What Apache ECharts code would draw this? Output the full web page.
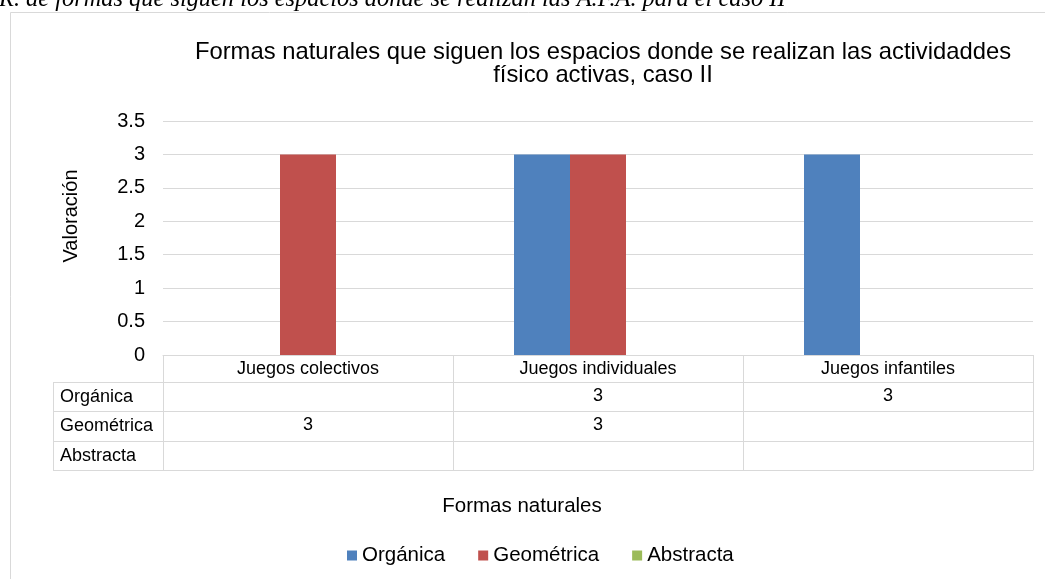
<!DOCTYPE html>
<html><head><meta charset="utf-8">
<script src="https://cdn.jsdelivr.net/npm/echarts@6/dist/echarts.min.js"></script>
<style>html,body{margin:0;padding:0;background:#fff}#c{width:1045px;height:579px}</style>
</head><body><div id="c"></div>
<script>
// ---- data ----
const categories = ['Juegos colectivos', 'Juegos individuales', 'Juegos infantiles'];
const seriesNames = ['Orgánica', 'Geométrica', 'Abstracta'];
const organica = [null, 3, 3];
const geometrica = [3, 3, null];
const abstracta = [null, null, null];
const yTicks = [0, 0.5, 1, 1.5, 2, 2.5, 3, 3.5];
const chartTitle = 'Formas naturales que siguen los espacios donde se realizan las actividaddes\nfísico activas, caso II';
const yName = 'Valoración';
const xName = 'Formas naturales';
const caption = 'R. de formas que siguen los espacios donde se realizan las A.F.A. para el caso II';

// ---- layout / style ----
const colors = ['#4f81bd', '#c0504d', '#9bbb59'];
const lineColor = '#d9d9d9';
const font = 'Liberation Sans, Arial, sans-serif';
const gridLeft = 163, gridRight = 12, gridTop = 121, gridBottomY = 355;
const rowOffsets = [27, 56, 86, 115]; // lines under header, Orgánica, Geométrica, Abstracta
const rowHeaderLeft = 53;
const rows = [organica, geometrica, abstracta];

const chart = echarts.init(document.getElementById('c'), null, {renderer: 'canvas'});

const fmt = v => (v === null || v === undefined) ? '' : String(v);

const xAxes = [{
  type: 'category', data: categories, position: 'bottom',
  axisLine: {show: true, lineStyle: {color: lineColor, width: 1}},
  axisTick: {show: true, length: rowOffsets[3], lineStyle: {color: lineColor}},
  axisLabel: {show: true, interval: 0, margin: 5, color: '#000', fontSize: 18, fontFamily: font},
  splitLine: {show: false}
}];
rowOffsets.forEach((off, r) => {
  const vals = rows[r];
  const ax = {
    type: 'category', data: categories, position: 'bottom', offset: off,
    axisLine: {show: true, lineStyle: {color: lineColor, width: 1}},
    axisTick: {show: false},
    axisLabel: {show: !!vals, interval: 0, margin: 5, color: '#000', fontSize: 18, fontFamily: font,
      formatter: (v, i) => vals ? fmt(vals[i]) : ''},
    splitLine: {show: false}
  };
  if (r === 3) {
    ax.name = xName; ax.nameLocation = 'middle'; ax.nameGap = 26;
    ax.nameTextStyle = {color: '#000', fontSize: 20.5, fontFamily: font, padding: [0, 152, 0, 0]};
  }
  xAxes.push(ax);
});

const graphic = [
  {type: 'rect', shape: {x: 10.5, y: 12.5, width: 1200, height: 700}, style: {fill: 'none', stroke: lineColor, lineWidth: 1}, silent: true},
  {type: 'text', x: -1, y: 12, style: {text: caption, font: 'italic 24.4px "Liberation Serif", "Times New Roman", serif', fill: '#000', verticalAlign: 'bottom', lineHeight: 24}},
  {type: 'line', shape: {x1: rowHeaderLeft + 0.5, y1: gridBottomY + rowOffsets[0], x2: rowHeaderLeft + 0.5, y2: gridBottomY + rowOffsets[3]}, style: {stroke: lineColor, lineWidth: 1}}
];
rowOffsets.forEach(off => {
  graphic.push({type: 'line', shape: {x1: rowHeaderLeft, y1: gridBottomY + off + 0.5, x2: gridLeft, y2: gridBottomY + off + 0.5}, style: {stroke: lineColor, lineWidth: 1}});
});
seriesNames.forEach((n, r) => {
  const yc = gridBottomY + (rowOffsets[r] + rowOffsets[r + 1]) / 2 + 0.5;
  graphic.push({type: 'text', x: rowHeaderLeft + 7, y: yc, style: {text: n, fill: '#000', font: '18px ' + font, verticalAlign: 'middle'}});
});

const option = {
  backgroundColor: '#fff',
  animation: false,
  color: colors,
  title: {
    text: chartTitle, left: 598, top: 36, textAlign: 'center',
    textStyle: {color: '#000', fontSize: 23.8, fontWeight: 'normal', fontFamily: font, lineHeight: 23}
  },
  legend: {
    data: seriesNames, left: 347, top: 545, icon: 'rect', itemWidth: 10, itemHeight: 10, itemGap: 33, padding: 0,
    textStyle: {color: '#000', fontSize: 20.5, fontFamily: font}
  },
  grid: {left: gridLeft, right: gridRight, top: gridTop, height: gridBottomY - gridTop, containLabel: false},
  xAxis: xAxes,
  yAxis: {
    type: 'value', min: yTicks[0], max: yTicks[yTicks.length - 1], interval: 0.5,
    name: yName, nameLocation: 'middle', nameGap: 82, nameRotate: 90,
    nameTextStyle: {color: '#000', fontSize: 20, fontFamily: font, padding: [0, 0, 0, 44]},
    axisLine: {show: false}, axisTick: {show: false},
    axisLabel: {color: '#000', fontSize: 20, fontFamily: font, margin: 18},
    splitLine: {lineStyle: {color: lineColor, width: 1}}
  },
  series: [
    {name: seriesNames[0], type: 'bar', data: organica, barWidth: 56, barGap: '0%', xAxisIndex: 0},
    {name: seriesNames[1], type: 'bar', data: geometrica, barWidth: 56, barGap: '0%', xAxisIndex: 0},
    {name: seriesNames[2], type: 'bar', data: abstracta, barWidth: 56, barGap: '0%', xAxisIndex: 0}
  ],
  graphic: graphic
};
chart.setOption(option);
</script>
</body></html>
